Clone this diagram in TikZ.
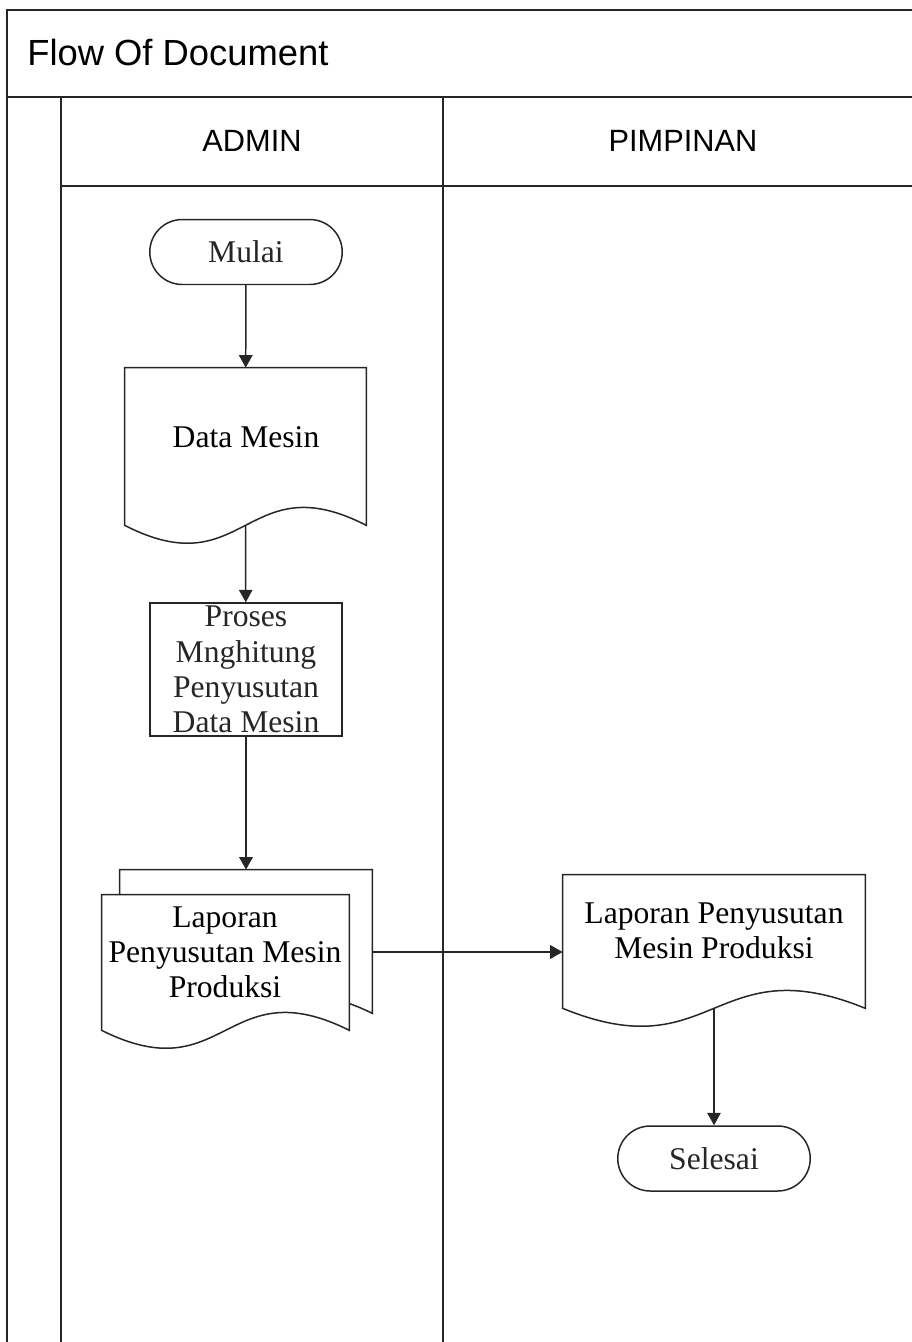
\documentclass[tikz,border=0pt]{standalone}
\usepackage{fontspec}
\setmainfont{Liberation Serif}
\newfontfamily\headfont{Liberation Sans}
\usetikzlibrary{arrows.meta, positioning, calc}

% document symbol with wavy bottom, drawn round a named node
\newcommand\docoutline[1]{%
  \draw[shapeline, fill=white] (#1.north west) -- (#1.north east) -- (#1.south east)
    .. controls ($(#1.south)+(0,-62)$) and ($(#1.south)+(0,62)$) .. (#1.south west) -- cycle;}

\begin{document}
\begin{tikzpicture}[x=0.02cm, y=-0.02cm,
    frameline/.style={line width=1.2pt, black!85},
    shapeline/.style={line width=0.85pt, black!85},
    bodyfont/.style={font=\fontsize{18}{20}\selectfont},
    terminal/.style={draw, shapeline, bodyfont, rounded corners=0.65cm, minimum width=3.85cm, minimum height=1.3cm},
    procbox/.style={draw, shapeline, bodyfont, align=center, inner sep=0pt, minimum width=3.84cm, minimum height=2.66cm},
    docbox/.style={inner sep=0pt},
    doctext/.style={bodyfont, align=center, inner sep=0pt},
    lanehead/.style={font=\headfont\fontsize{17.5}{20}\selectfont},
    flow/.style={shapeline, -{Triangle[length=0.25cm, width=0.27cm]}}]
    \useasboundingbox (0,0) rectangle (912,1342);

    % swimlane frame
    \draw[frameline] (7,1342) -- (7,10) -- (912,10);
    \draw[frameline] (7,97) -- (912,97);
    \draw[frameline] (61,97) -- (61,1342);
    \draw[frameline] (443,97) -- (443,1342);
    \draw[frameline] (61,186) -- (912,186);
    \node[lanehead, anchor=west, inner sep=0pt, font=\headfont\fontsize{20.7}{23}\selectfont] (title) at (27,52) {Flow Of Document};
    \node[lanehead] (admin) at (252,141) {ADMIN};
    \node[lanehead] (pimpinan) at (683,141) {PIMPINAN};

    % admin lane
    \node[terminal] (mulai) at (246,252) {Mulai};
    \node[docbox, minimum width=4.82cm, minimum height=3.14cm] (data) at (245.5,446.5) {};
    \docoutline{data}
    \node[doctext] (tdata) at (246,437) {Data Mesin};
    \node[procbox] (proses) at (246,669.5) {Proses\\Mnghitung\\Penyusutan\\Data Mesin};
    \node[docbox, minimum width=5.04cm, minimum height=2.86cm] (lapback) at (246,941.5) {};
    \docoutline{lapback}
    \node[docbox, minimum width=4.94cm, minimum height=2.7cm] (lap) at (225.5,962.5) {};
    \docoutline{lap}
    \node[doctext] (tlap) at (225,952) {Laporan\\Penyusutan Mesin\\Produksi};

    % pimpinan lane
    \node[docbox, minimum width=6.04cm, minimum height=2.66cm] (rep) at (714,941.5) {};
    \docoutline{rep}
    \node[doctext] (trep) at (714,931) {Laporan Penyusutan\\Mesin Produksi};
    \node[terminal] (selesai) at (714,1158.5) {Selesai};

    \draw[flow] (mulai) -- (data);
    \draw[flow] (data.south) -- (proses);
    \draw[flow] (proses) -- (lapback);
    \draw[flow] (tlap -| lapback.east) -- (tlap -| rep.west);
    \draw[flow] (rep.south) -- (selesai);
\end{tikzpicture}
\end{document}
